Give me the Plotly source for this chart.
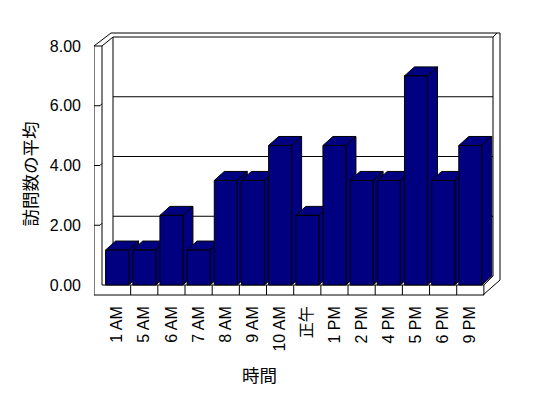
import plotly.graph_objects as go

# ---------------- data ----------------
categories = ["1 AM", "5 AM", "6 AM", "7 AM", "8 AM", "9 AM", "10 AM",
              "正午", "1 PM", "2 PM", "4 PM", "5 PM", "6 PM", "9 PM"]
values = [1.17, 1.17, 2.33, 1.17, 3.5, 3.5, 4.67,
          2.33, 4.67, 3.5, 3.5, 7.0, 3.5, 4.67]
y_ticks = [0, 2, 4, 6, 8]
y_tick_labels = ["0.00", "2.00", "4.00", "6.00", "8.00"]
x_title = "時間"
y_title = "訪問数の平均"

# ---------------- layout geometry (page pixels) ----------------
W, H = 548, 398
OFF = 8                                 # default page body margin
L, R, T, B = 94, 510, 25, 300          # plot area
ZERO_PX = 285.0                         # pixel row of value 0 (front plane)
SY = 29.875                             # px per value unit
SLOT0_PX = 103.5                        # left edge of first category slot
SX = 27.17                              # px per category
DEPTH_X, DEPTH_Y = 10.0, 9.0            # oblique depth offset (px)

x_lo = -0.5 - (SLOT0_PX - L) / SX
x_hi = x_lo + (R - L) / SX
y_lo = -(B - ZERO_PX) / SY
y_hi = (ZERO_PX - T) / SY


def X(px):
    return x_lo + (px - L) / SX


def Y(py):
    return (ZERO_PX - py) / SY


DX = DEPTH_X / SX
DY = DEPTH_Y / SY
BAR_W = 23.0 / SX
NAVY = "#000080"
FONT = "Liberation Sans, Arial, Noto Sans CJK JP, sans-serif"

shapes = []


def line_px(x0, y0, x1, y1, layer="below"):
    shapes.append(dict(type="line", xref="x", yref="y",
                       x0=X(x0), y0=Y(y0), x1=X(x1), y1=Y(y1),
                       line=dict(color="black", width=1), layer=layer))


def path_px(pts, layer="below"):
    d = "M " + " L ".join(f"{X(a)},{Y(b)}" for a, b in pts)
    shapes.append(dict(type="path", xref="x", yref="y", path=d,
                       line=dict(color="black", width=1), layer=layer))


# --- back wall (inner face) ---
back_left, back_right = 113, 493
back_top = ZERO_PX - 8 * SY - DEPTH_Y
back_bottom = ZERO_PX - DEPTH_Y
line_px(back_left, back_top, back_right, back_top)
line_px(back_left, back_top, back_left, back_bottom)
line_px(back_right, back_top, back_right, back_bottom)
for v in y_ticks[1:-1]:
    yy = ZERO_PX - v * SY - DEPTH_Y
    line_px(back_left, yy, back_right, yy)
# back wall outer edge
path_px([(111, 33), (500, 33), (500, 280), (483, 295)])
line_px(back_right, back_top, 497, 33)

# --- left wall ---
top_front = ZERO_PX - 8 * SY
line_px(94, top_front, 94, 295)
line_px(102, top_front, 102, ZERO_PX)
line_px(94, top_front, 102, top_front)
line_px(94, top_front, 111, 33)
line_px(102, top_front, back_left, back_top)
for v in y_ticks[1:-1]:
    yy = ZERO_PX - v * SY
    path_px([(94, yy), (100, yy), (102, yy - 2)])

# --- floor ---
floor_right = SLOT0_PX + len(categories) * SX
line_px(102, ZERO_PX, floor_right, ZERO_PX)
line_px(94, 295, floor_right, 295)
line_px(floor_right, ZERO_PX, floor_right, 295)
line_px(floor_right, ZERO_PX, back_right, back_bottom)
for k in range(1, len(categories)):
    xx = SLOT0_PX + k * SX
    line_px(xx, ZERO_PX, xx, 295)

# --- bar side & top faces (drawn left to right, under the bar fronts) ---
for i, v in enumerate(values):
    xl = i - BAR_W / 2
    xr = i + BAR_W / 2
    side = [(xr, 0), (xr, v), (xr + DX, v + DY), (xr + DX, DY)]
    top = [(xl, v), (xr, v), (xr + DX, v + DY), (xl + DX, v + DY)]
    for poly in (side, top):
        d = "M " + " L ".join(f"{a},{b}" for a, b in poly) + " Z"
        shapes.append(dict(type="path", xref="x", yref="y", path=d,
                           fillcolor=NAVY, line=dict(color="black", width=1),
                           layer="between"))

fig = go.Figure()
fig.add_trace(go.Bar(
    x=list(range(len(categories))), y=values, width=BAR_W,
    marker=dict(color=NAVY, line=dict(color="black", width=1)),
    customdata=categories,
    hovertemplate="%{customdata}: %{y:.2f}<extra></extra>",
))

annotations = [
    dict(text=y_title, xref="paper", yref="paper", textangle=-90,
         x=(30 - L) / (R - L), y=(B - 174.5) / (B - T),
         xanchor="center", yanchor="middle", showarrow=False,
         font=dict(size=17.5, color="black", family=FONT)),
    dict(text=x_title, xref="paper", yref="paper",
         x=(259 - L) / (R - L), y=(B - 376) / (B - T),
         xanchor="center", yanchor="middle", showarrow=False,
         font=dict(size=17.5, color="black", family=FONT)),
]

fig.update_layout(
    width=W - OFF, height=H - OFF,
    margin=dict(l=L - OFF, r=W - R, t=T - OFF, b=H - B, pad=0),
    paper_bgcolor="white", plot_bgcolor="white",
    showlegend=False,
    font=dict(family=FONT, size=16, color="black"),
    shapes=shapes,
    annotations=annotations,
    xaxis=dict(range=[x_lo, x_hi], tickvals=list(range(len(categories))),
               ticktext=categories, tickangle=-90, showgrid=False,
               zeroline=False, showline=False, ticks="",
               ticklabelstandoff=2, fixedrange=True),
    yaxis=dict(range=[y_lo, y_hi], tickvals=y_ticks, ticktext=y_tick_labels,
               showgrid=False, zeroline=False, showline=False, ticks="",
               ticklabelstandoff=12, fixedrange=True),
)

fig.write_html("out.html")
